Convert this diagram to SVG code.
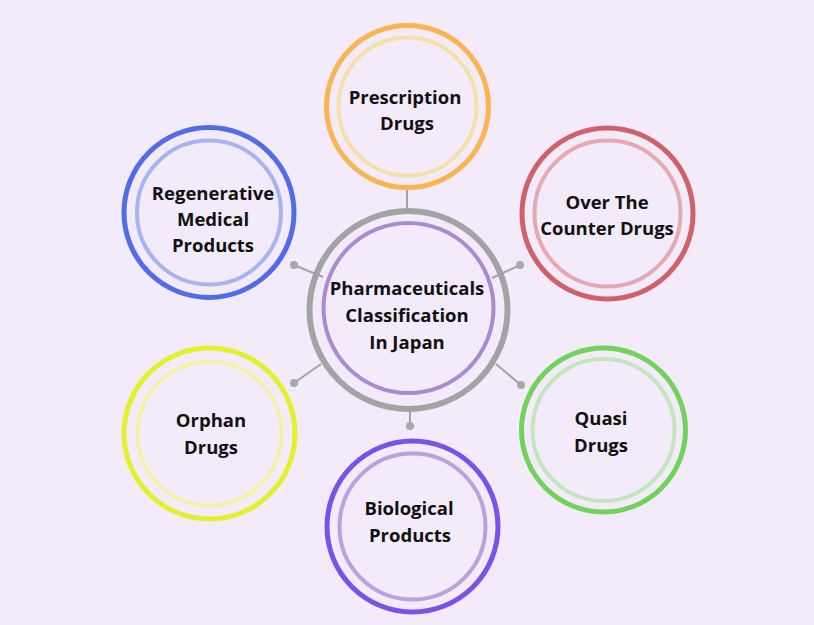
<svg xmlns="http://www.w3.org/2000/svg" width="814" height="625" viewBox="0 0 814 625">
<style>
.bg{fill:#F3EBFA}
.o{fill:#F3EBFA;stroke-width:5}
.i{fill:none;stroke-width:4}
.t{font-family:"Open Sans","Noto Sans","Liberation Sans",sans-serif;font-weight:700;font-size:18.5px;fill:#111111;text-anchor:middle}
.ln{stroke:#A3A3A3;stroke-width:2;fill:none}
.dot{fill:#A8A8A8}
</style>
<rect class="bg" x="0" y="0" width="814" height="625"/>
<g id="connectors">
<line class="ln" x1="407" y1="175" x2="407" y2="212"/>
<line class="ln" x1="294" y1="265" x2="323" y2="277"/>
<line class="ln" x1="520" y1="265" x2="492" y2="278"/>
<line class="ln" x1="294" y1="383" x2="321" y2="364"/>
<line class="ln" x1="521" y1="385" x2="496" y2="364"/>
<line class="ln" x1="410" y1="406" x2="410" y2="426"/>
<circle class="dot" cx="407" cy="175" r="4"/>
<circle class="dot" cx="294" cy="265" r="4"/>
<circle class="dot" cx="520" cy="265" r="4"/>
<circle class="dot" cx="294" cy="383" r="4"/>
<circle class="dot" cx="521" cy="385" r="4"/>
<circle class="dot" cx="410" cy="426" r="4"/>
</g>
<g id="center">
<circle cx="408.5" cy="310" r="99" fill="none" stroke="#A3A3A3" stroke-width="6"/>
<circle cx="408.5" cy="308" r="85" fill="none" stroke="#A98BD4" stroke-width="4"/>
<text class="t" x="407" y="294.5">Pharmaceuticals</text>
<text class="t" x="407" y="321.5">Classification</text>
<text class="t" x="407" y="348.5">In Japan</text>
</g>
<g id="prescription">
<circle class="o" cx="407.5" cy="106.5" r="81" stroke="#F8B552"/>
<circle class="i" cx="407.5" cy="106.5" r="69" stroke="#F5E0A8"/>
<text class="t" x="405" y="103.5">Prescription</text>
<text class="t" x="407" y="129.5">Drugs</text>
</g>
<g id="regenerative">
<circle class="o" cx="209" cy="212.5" r="85" stroke="#4F6DE8"/>
<circle class="i" cx="209" cy="212.5" r="72" stroke="#A8B4F0"/>
<text class="t" x="213" y="199.5">Regenerative</text>
<text class="t" x="213" y="225.5">Medical</text>
<text class="t" x="213" y="251.5">Products</text>
</g>
<g id="otc">
<circle class="o" cx="607.5" cy="213.5" r="85.5" stroke="#D0606A"/>
<circle class="i" cx="607.5" cy="213.5" r="73" stroke="#E6A8B2"/>
<text class="t" x="607" y="208.5">Over The</text>
<text class="t" x="607" y="234.5">Counter Drugs</text>
</g>
<g id="quasi">
<circle class="o" cx="603.5" cy="430" r="82" stroke="#72D35C"/>
<circle class="i" cx="603.5" cy="430" r="71" stroke="#C4E6BE"/>
<text class="t" x="601" y="424.5">Quasi</text>
<text class="t" x="601" y="451.5">Drugs</text>
</g>
<g id="biological">
<circle class="o" cx="412.5" cy="526.5" r="85.5" stroke="#7B52E8"/>
<circle class="i" cx="412.5" cy="526.5" r="73" stroke="#B7A3DE"/>
<text class="t" x="409" y="514.5">Biological</text>
<text class="t" x="410" y="541.5">Products</text>
</g>
<g id="orphan">
<circle class="o" cx="209.5" cy="433.5" r="85.5" stroke="#E3F02B"/>
<circle class="i" cx="209.5" cy="433.5" r="72" stroke="#EFF3A7"/>
<text class="t" x="211" y="426.5">Orphan</text>
<text class="t" x="211" y="453.5">Drugs</text>
</g>
</svg>
